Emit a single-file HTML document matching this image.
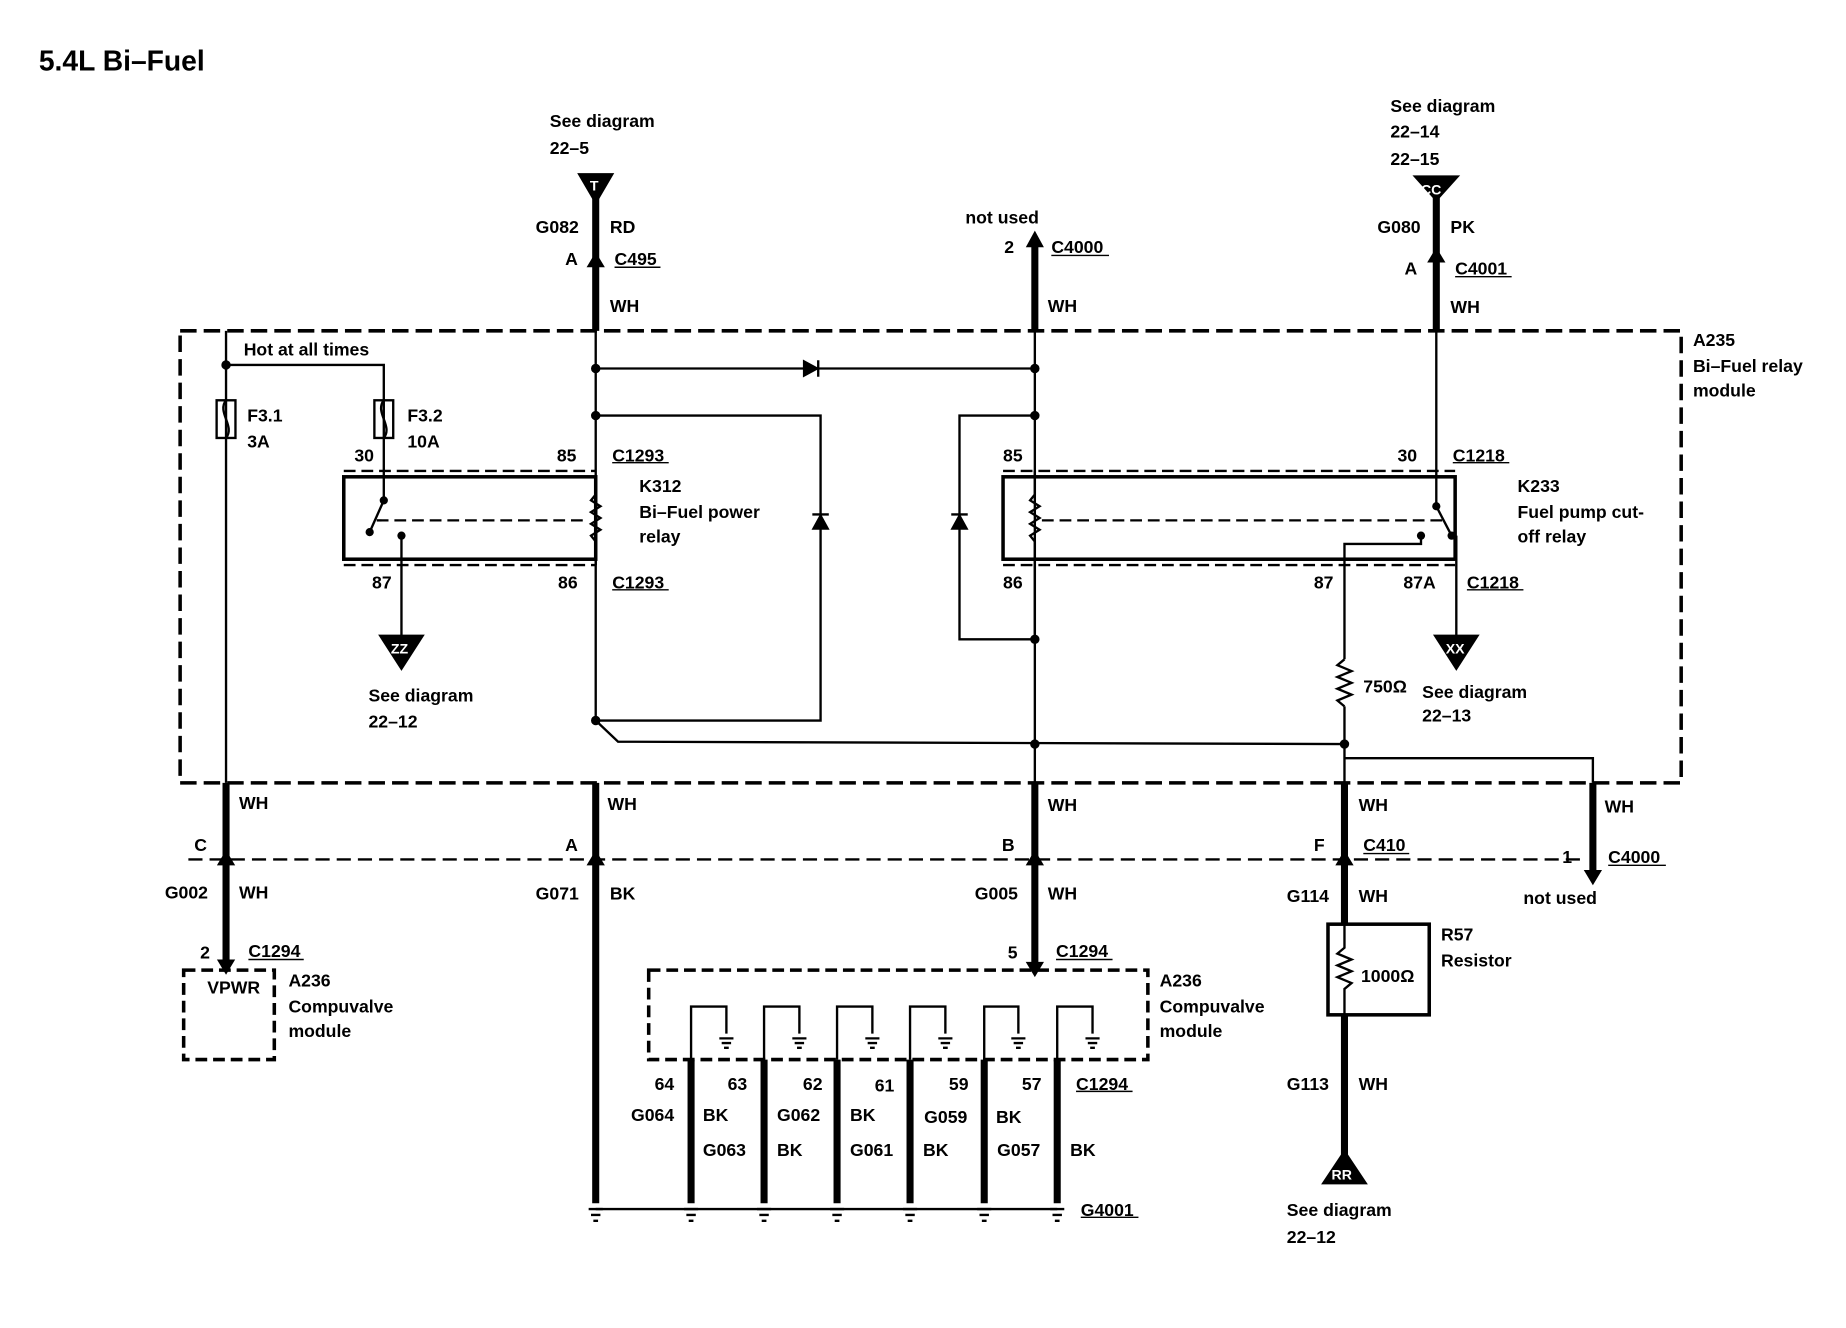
<!DOCTYPE html>
<html><head><meta charset="utf-8"><style>
html,body{margin:0;padding:0;background:#fff;}
svg{display:block}
text{font-family:"Liberation Sans",Arial,sans-serif;font-weight:bold;font-size:15px;fill:#000}
</style></head><body>
<svg width="1846" height="1328" viewBox="0 0 1568 1128" xmlns="http://www.w3.org/2000/svg">
<rect x="0" y="0" width="1568" height="1128" fill="#fff"/>
<text x="33" y="60" style="font-size:24px">5.4L Bi–Fuel</text>

<g fill="none" stroke="#000">
<rect x="153" y="281" width="1275" height="384" stroke-width="3" stroke-dasharray="14,6"/>
<rect x="156" y="824" width="77" height="76" stroke-width="3" stroke-dasharray="10,5"/>
<rect x="551" y="824" width="424" height="76" stroke-width="3" stroke-dasharray="10,5"/>
<line x1="160" y1="730" x2="1345" y2="730" stroke-width="2" stroke-dasharray="12,6"/>

<g stroke-width="6">
<line x1="506" y1="160" x2="506" y2="281"/>
<line x1="879" y1="205" x2="879" y2="281"/>
<line x1="1220" y1="165" x2="1220" y2="281"/>
<line x1="192" y1="665" x2="192" y2="822"/>
<line x1="506" y1="665" x2="506" y2="1022"/>
<line x1="879" y1="665" x2="879" y2="820"/>
<line x1="1142" y1="665" x2="1142" y2="785"/>
<line x1="1142" y1="862" x2="1142" y2="995"/>
<line x1="1353" y1="665" x2="1353" y2="742"/>
<line x1="587" y1="900" x2="587" y2="1022"/>
<line x1="649" y1="900" x2="649" y2="1022"/>
<line x1="711" y1="900" x2="711" y2="1022"/>
<line x1="773" y1="900" x2="773" y2="1022"/>
<line x1="836" y1="900" x2="836" y2="1022"/>
<line x1="898" y1="900" x2="898" y2="1022"/>
</g>

<g stroke-width="2">
<line x1="506" y1="281" x2="506" y2="612"/>
<line x1="879" y1="281" x2="879" y2="665"/>
<line x1="1220" y1="281" x2="1220" y2="430"/>
<polyline points="192,281 192,310 326,310 326,400"/>
<line x1="192" y1="310" x2="192" y2="665"/>
<line x1="506" y1="313" x2="879" y2="313"/>
<polyline points="506,353 697,353 697,612 506,612"/>
<polyline points="506,612 525,630 1142,632"/>
<polyline points="879,353 815,353 815,543 879,543"/>
<polyline points="1207,455 1207,462 1142,462 1142,560"/>
<polyline points="1142,560 1136,565 1148,570 1136,575 1148,580 1136,585 1148,590 1136,595 1142,600"/>
<line x1="1142" y1="600" x2="1142" y2="665"/>
<polyline points="1142,644 1353,644 1353,665"/>
<line x1="341" y1="455" x2="341" y2="542"/>
<line x1="1237" y1="455" x2="1237" y2="542"/>
<line x1="506" y1="1027" x2="898" y2="1027"/>
<rect x="292" y="405" width="214" height="70" stroke-width="3"/>
<rect x="852" y="405" width="384" height="70" stroke-width="3"/>
<line x1="292" y1="400" x2="506" y2="400" stroke-dasharray="10,5"/>
<line x1="292" y1="480" x2="506" y2="480" stroke-dasharray="10,5"/>
<line x1="852" y1="400" x2="1236" y2="400" stroke-dasharray="10,5"/>
<line x1="852" y1="480" x2="1236" y2="480" stroke-dasharray="10,5"/>
<line x1="320" y1="442" x2="500" y2="442" stroke-dasharray="10,5"/>
<line x1="885" y1="442" x2="1228" y2="442" stroke-dasharray="10,5"/>
<polyline points="326,400 326,425 314,452"/>
<polyline points="1220,430 1233,455"/>
<polyline points="506,410 506,420 502,425 510,430 502,435 510,440 502,445 510,450 502,455 506,460 506,480"/>
<polyline points="879,400 879,420 875,425 883,430 875,435 883,440 875,445 883,450 875,455 879,460 879,480"/>
<line x1="879" y1="480" x2="879" y2="543"/>
<rect x="184" y="340" width="16" height="32"/>
<path d="M192,340 C184,350 200,362 192,372"/>
<rect x="318" y="340" width="16" height="32"/>
<path d="M326,340 C318,350 334,362 326,372"/>
<rect x="1128" y="785" width="86" height="77" stroke-width="3"/>
<polyline points="1142,785 1142,805 1136,810 1148,815 1136,820 1148,825 1136,830 1148,835 1142,840 1142,862"/>
<g>
<polyline points="587,900 587,855 617,855 617,878"/>
<polyline points="649,900 649,855 679,855 679,878"/>
<polyline points="711,900 711,855 741,855 741,878"/>
<polyline points="773,900 773,855 803,855 803,878"/>
<polyline points="836,900 836,855 865,855 865,878"/>
<polyline points="898,900 898,855 928,855 928,878"/>
</g>
<g stroke-width="1.2">
<line x1="522" y1="227" x2="561" y2="227"/><line x1="893" y1="217" x2="942" y2="217"/>
<line x1="1236" y1="235" x2="1284" y2="235"/><line x1="520" y1="393" x2="568" y2="393"/>
<line x1="520" y1="501" x2="568" y2="501"/><line x1="1234" y1="393" x2="1282" y2="393"/>
<line x1="1246" y1="501" x2="1294" y2="501"/><line x1="1158" y1="725" x2="1197" y2="725"/>
<line x1="1366" y1="735" x2="1415" y2="735"/><line x1="211" y1="815" x2="258" y2="815"/>
<line x1="897" y1="815" x2="945" y2="815"/><line x1="914" y1="927" x2="962" y2="927"/>
<line x1="918" y1="1034" x2="967" y2="1034"/>
</g>
</g>
</g>

<g fill="#000" stroke="#000" stroke-width="2">
<polygon points="683,307 683,319 694,313"/><line x1="695" y1="306" x2="695" y2="320"/>
<polygon points="691,449 703,449 697,438"/><line x1="690" y1="437" x2="704" y2="437"/>
<polygon points="809,449 821,449 815,438"/><line x1="808" y1="437" x2="822" y2="437"/>
<circle cx="192" cy="310" r="3"/><circle cx="506" cy="313" r="3"/><circle cx="506" cy="353" r="3"/>
<circle cx="879" cy="313" r="3"/><circle cx="879" cy="353" r="3"/><circle cx="879" cy="543" r="3"/>
<circle cx="506" cy="612" r="3"/><circle cx="1142" cy="632" r="3"/><circle cx="879" cy="632" r="3"/>
<circle cx="314" cy="452" r="2.5"/><circle cx="341" cy="455" r="2.5"/><circle cx="326" cy="425" r="2.5"/>
<circle cx="1220" cy="430" r="2.5"/><circle cx="1233" cy="455" r="2.5"/><circle cx="1207" cy="455" r="2.5"/>
<polygon points="500,226 506,216 512,226"/><polygon points="1214,222 1220,212 1226,222"/>
<polygon points="873,209 879,198 885,209"/><polygon points="1347,740 1353,750 1359,740"/>
<polygon points="186,734 192,724 198,734"/><polygon points="500,734 506,724 512,734"/>
<polygon points="873,734 879,724 885,734"/><polygon points="1136,734 1142,724 1148,734"/>
<polygon points="873,818 879,828 885,818"/><polygon points="186,816 192,826 198,816"/>
<polygon points="492,148 520,148 506,172"/><polygon points="1202,150 1238,150 1220,170"/>
<polygon points="323,540 359,540 341,568"/><polygon points="1219,540 1255,540 1237,568"/>
<polygon points="1142,978 1124,1005 1160,1005"/>
<g stroke-width="2" fill="none">
<path d="M611,882h12M613,886h8M615,890h4M673,882h12M675,886h8M677,890h4M735,882h12M737,886h8M739,890h4M797,882h12M799,886h8M801,890h4M859,882h12M861,886h8M863,890h4M922,882h12M924,886h8M926,890h4"/>
<path d="M500,1027h12M502,1032h8M504,1037h4M581,1027h12M583,1032h8M585,1037h4M643,1027h12M645,1032h8M647,1037h4M705,1027h12M707,1032h8M709,1037h4M767,1027h12M769,1032h8M771,1037h4M830,1027h12M832,1032h8M834,1037h4M892,1027h12M894,1032h8M896,1037h4"/>
</g>
</g>
<g style="font-size:12px">
<text x="501" y="162" style="fill:#fff;font-size:12px">T</text>
<text x="1207" y="165" style="fill:#fff;font-size:12px">CC</text>
<text x="332" y="555" style="fill:#fff;font-size:12px">ZZ</text>
<text x="1228" y="555" style="fill:#fff;font-size:12px">XX</text>
<text x="1131" y="1002" style="fill:#fff;font-size:12px">RR</text>
</g>

<text x="467" y="108">See diagram</text><text x="467" y="131">22–5</text>
<text x="455" y="198">G082</text><text x="518" y="198">RD</text>
<text x="480" y="225">A</text><text x="522" y="225">C495</text><text x="518" y="265">WH</text>
<text x="820" y="190">not used</text><text x="853" y="215">2</text><text x="893" y="215">C4000</text><text x="890" y="265">WH</text>
<text x="1181" y="95">See diagram</text><text x="1181" y="117">22–14</text><text x="1181" y="140">22–15</text>
<text x="1170" y="198">G080</text><text x="1232" y="198">PK</text>
<text x="1193" y="233">A</text><text x="1236" y="233">C4001</text><text x="1232" y="266">WH</text>
<text x="1438" y="294">A235</text><text x="1438" y="316">Bi–Fuel relay</text><text x="1438" y="337">module</text>
<text x="207" y="302">Hot at all times</text>
<text x="210" y="358">F3.1</text><text x="210" y="380">3A</text>
<text x="346" y="358">F3.2</text><text x="346" y="380">10A</text>
<text x="301" y="392">30</text><text x="473" y="392">85</text><text x="520" y="392">C1293</text>
<text x="543" y="418">K312</text><text x="543" y="440">Bi–Fuel power</text><text x="543" y="461">relay</text>
<text x="316" y="500">87</text><text x="474" y="500">86</text><text x="520" y="500">C1293</text>
<text x="313" y="596">See diagram</text><text x="313" y="618">22–12</text>
<text x="852" y="392">85</text><text x="852" y="500">86</text>
<text x="1187" y="392">30</text><text x="1234" y="392">C1218</text>
<text x="1289" y="418">K233</text><text x="1289" y="440">Fuel pump cut-</text><text x="1289" y="461">off relay</text>
<text x="1116" y="500">87</text><text x="1192" y="500">87A</text><text x="1246" y="500">C1218</text>
<text x="1158" y="588">750Ω</text>
<text x="1208" y="593">See diagram</text><text x="1208" y="613">22–13</text>
<text x="203" y="687">WH</text><text x="516" y="688">WH</text><text x="890" y="689">WH</text><text x="1154" y="689">WH</text><text x="1363" y="690">WH</text>
<text x="165" y="723">C</text><text x="480" y="723">A</text><text x="851" y="723">B</text><text x="1116" y="723">F</text><text x="1158" y="723">C410</text>
<text x="1327" y="733">1</text><text x="1366" y="733">C4000</text><text x="1294" y="768">not used</text>
<text x="140" y="763">G002</text><text x="203" y="763">WH</text>
<text x="455" y="764">G071</text><text x="518" y="764">BK</text>
<text x="828" y="764">G005</text><text x="890" y="764">WH</text>
<text x="1093" y="766">G114</text><text x="1154" y="766">WH</text>
<text x="170" y="814">2</text><text x="211" y="813">C1294</text>
<text x="856" y="814">5</text><text x="897" y="813">C1294</text>
<text x="176" y="844">VPWR</text>
<text x="245" y="838">A236</text><text x="245" y="860">Compuvalve</text><text x="245" y="881">module</text>
<text x="985" y="838">A236</text><text x="985" y="860">Compuvalve</text><text x="985" y="881">module</text>
<text x="1224" y="799">R57</text><text x="1224" y="821">Resistor</text><text x="1156" y="834">1000Ω</text>
<text x="556" y="926">64</text><text x="618" y="926">63</text><text x="682" y="926">62</text><text x="743" y="927">61</text><text x="806" y="926">59</text><text x="868" y="926">57</text><text x="914" y="926">C1294</text>
<text x="536" y="952">G064</text><text x="597" y="952">BK</text><text x="660" y="952">G062</text><text x="722" y="952">BK</text><text x="785" y="954">G059</text><text x="846" y="954">BK</text>
<text x="597" y="982">G063</text><text x="660" y="982">BK</text><text x="722" y="982">G061</text><text x="784" y="982">BK</text><text x="847" y="982">G057</text><text x="909" y="982">BK</text>
<text x="1093" y="926">G113</text><text x="1154" y="926">WH</text>
<text x="918" y="1033">G4001</text>
<text x="1093" y="1033">See diagram</text><text x="1093" y="1056">22–12</text>
</svg>
</body></html>
